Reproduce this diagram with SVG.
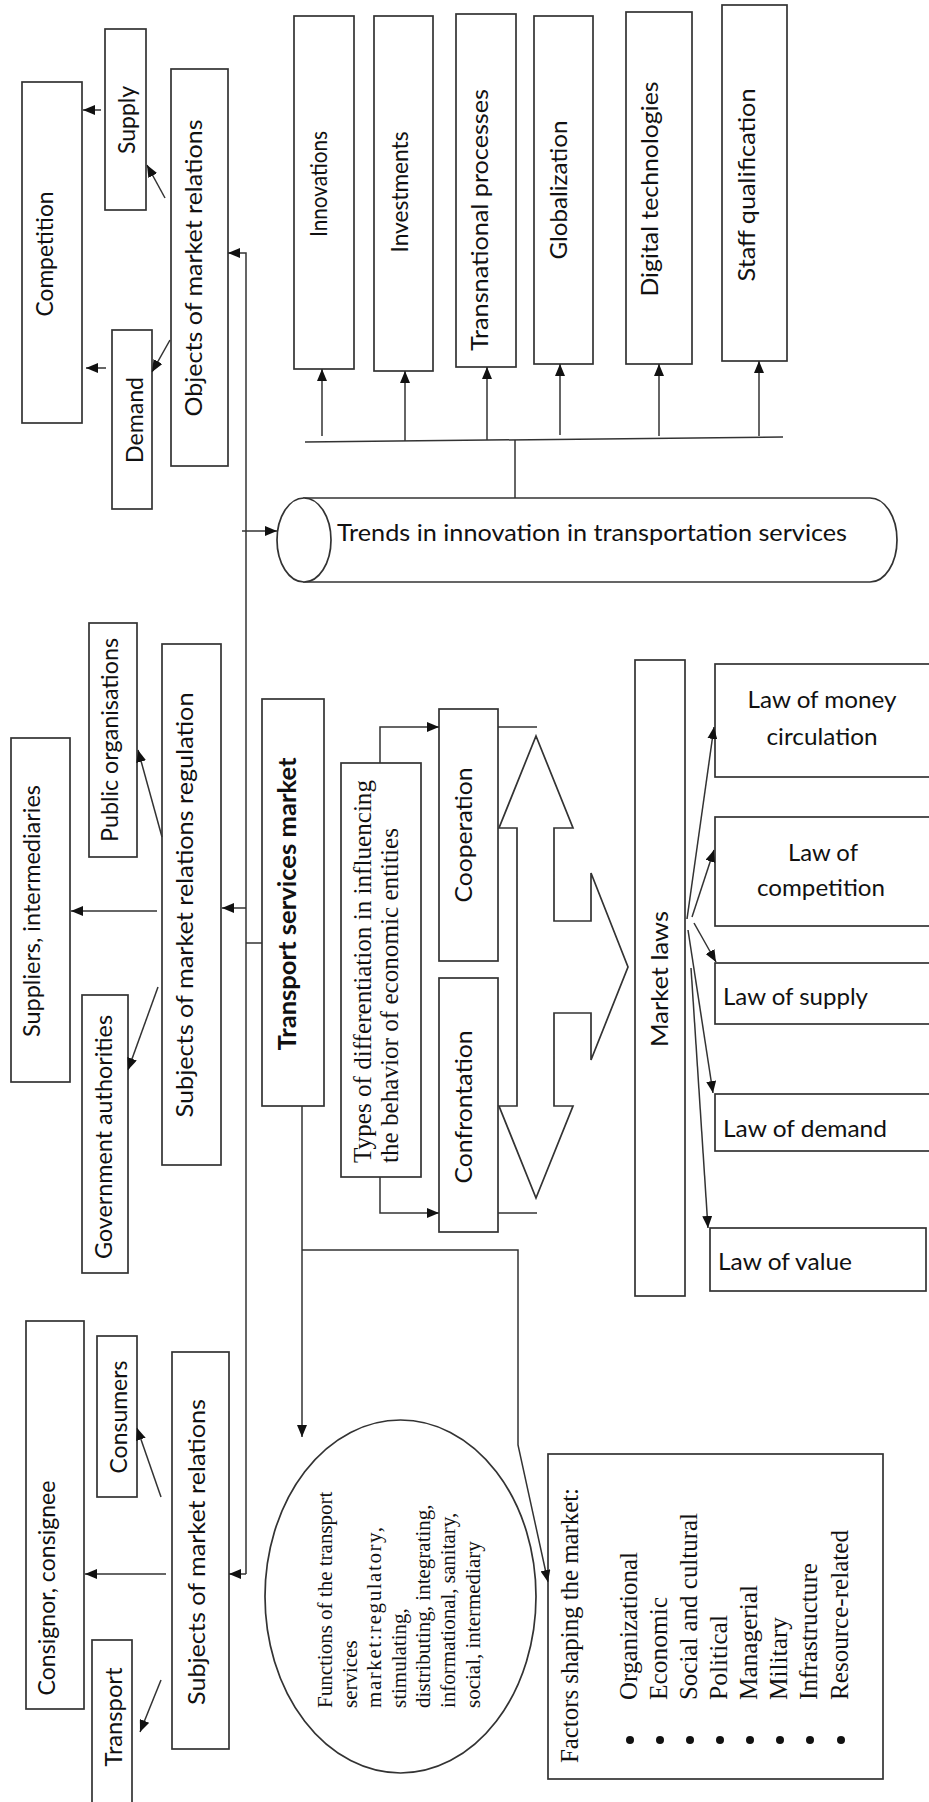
<svg xmlns="http://www.w3.org/2000/svg" width="929" height="1802" viewBox="0 0 929 1802">
<defs>
<marker id="ah" viewBox="0 0 12 10" refX="12" refY="5" markerWidth="12" markerHeight="10" markerUnits="userSpaceOnUse" orient="auto"><path d="M0,0 L12,5 L0,10 z" fill="#111"/></marker>
</defs>
<style>
.box{fill:#fff;stroke:#333;stroke-width:1.7}
.ln{fill:none;stroke:#333;stroke-width:1.5}
.ar{fill:none;stroke:#333;stroke-width:1.5;marker-end:url(#ah)}
.s{font-family:Lato,"Liberation Sans",sans-serif;font-size:24px;fill:#111}
.h{font-size:23px}
.b{font-weight:bold}
.f{font-family:"Liberation Serif","Times New Roman",serif;font-size:25px;fill:#111}
.fs{font-size:21px}
</style>
<rect width="929" height="1802" fill="#fff"/>

<g id="competition"><rect class="box" x="22" y="82" width="60" height="341"/><text class="s" transform="translate(53,254) rotate(-90)" text-anchor="middle" textLength="125" lengthAdjust="spacingAndGlyphs">Competition</text></g>
<g id="supply"><rect class="box" x="105" y="29" width="41" height="181"/><text class="s" transform="translate(135,120) rotate(-90)" text-anchor="middle" textLength="68" lengthAdjust="spacingAndGlyphs">Supply</text></g>
<g id="demand"><rect class="box" x="112" y="330" width="40" height="179"/><text class="s" transform="translate(143,420) rotate(-90)" text-anchor="middle" textLength="86" lengthAdjust="spacingAndGlyphs">Demand</text></g>
<g id="objects"><rect class="box" x="171" y="69" width="57" height="397"/><text class="s" transform="translate(202,268) rotate(-90)" text-anchor="middle" textLength="297" lengthAdjust="spacingAndGlyphs">Objects of market relations</text></g>

<g id="innovations"><rect class="box" x="294" y="16" width="60" height="353"/><text class="s" transform="translate(327,184) rotate(-90)" text-anchor="middle" textLength="106" lengthAdjust="spacingAndGlyphs">Innovations</text></g>
<g id="investments"><rect class="box" x="374" y="16" width="59" height="355"/><text class="s" transform="translate(408,192) rotate(-90)" text-anchor="middle" textLength="121" lengthAdjust="spacingAndGlyphs">Investments</text></g>
<g id="transnational"><rect class="box" x="456" y="14" width="60" height="353"/><text class="s" transform="translate(488,220) rotate(-90)" text-anchor="middle" textLength="262" lengthAdjust="spacingAndGlyphs">Transnational  processes</text></g>
<g id="globalization"><rect class="box" x="534" y="16" width="59" height="348"/><text class="s" transform="translate(567,190) rotate(-90)" text-anchor="middle" textLength="139" lengthAdjust="spacingAndGlyphs">Globalization</text></g>
<g id="digital"><rect class="box" x="626" y="12" width="66" height="352"/><text class="s" transform="translate(658,189) rotate(-90)" text-anchor="middle" textLength="215" lengthAdjust="spacingAndGlyphs">Digital technologies</text></g>
<g id="staff"><rect class="box" x="722" y="5" width="65" height="356"/><text class="s" transform="translate(755,185) rotate(-90)" text-anchor="middle" textLength="193" lengthAdjust="spacingAndGlyphs">Staff qualification</text></g>

<g id="trends"><path class="box" d="M304,498 L870,498 A27,42 0 0 1 870,582 L304,582 Z"/><ellipse class="box" cx="304" cy="540" rx="27" ry="42"/><text class="s" x="337" y="541" textLength="510" lengthAdjust="spacingAndGlyphs">Trends  in  innovation  in transportation  services</text></g>

<g id="public"><rect class="box" x="89" y="623" width="48" height="234"/><text class="s" transform="translate(118,740) rotate(-90)" text-anchor="middle" textLength="204" lengthAdjust="spacingAndGlyphs">Public organisations</text></g>
<g id="suppliers"><rect class="box" x="11" y="738" width="59" height="344"/><text class="s" transform="translate(40,911) rotate(-90)" text-anchor="middle" textLength="252" lengthAdjust="spacingAndGlyphs">Suppliers, intermediaries</text></g>
<g id="regulation"><rect class="box" x="162" y="644" width="59" height="521"/><text class="s" transform="translate(193,905) rotate(-90)" text-anchor="middle" textLength="425" lengthAdjust="spacingAndGlyphs">Subjects of market relations  regulation</text></g>
<g id="government"><rect class="box" x="82" y="995" width="46" height="278"/><text class="s" transform="translate(112,1137) rotate(-90)" text-anchor="middle" textLength="244" lengthAdjust="spacingAndGlyphs">Government authorities</text></g>
<g id="tsm"><rect class="box" x="262" y="699" width="62" height="407"/><text class="s b" transform="translate(296,904) rotate(-90)" text-anchor="middle" textLength="293" lengthAdjust="spacingAndGlyphs">Transport services  market</text></g>

<g id="types"><rect class="box" x="341" y="763" width="80" height="414"/><text class="f" transform="translate(371,1163) rotate(-90)" textLength="383" lengthAdjust="spacingAndGlyphs">Types of differentiation in influencing</text><text class="f" transform="translate(398,1163) rotate(-90)" textLength="335" lengthAdjust="spacingAndGlyphs">the behavior of economic entities</text></g>
<g id="cooperation"><rect class="box" x="439" y="709" width="59" height="252"/><text class="s" transform="translate(472,835) rotate(-90)" text-anchor="middle" textLength="135" lengthAdjust="spacingAndGlyphs">Cooperation</text></g>
<g id="confrontation"><rect class="box" x="439" y="978" width="59" height="254"/><text class="s" transform="translate(472,1107) rotate(-90)" text-anchor="middle" textLength="153" lengthAdjust="spacingAndGlyphs">Confrontation</text></g>
<g id="doublearrow"><polygon class="box" points="536,736 573,828 554,828 554,921 591,921 591,873 628,967 591,1060 591,1013 554,1013 554,1106 573,1106 536,1198 499,1106 517,1106 517,828 499,828"/></g>

<g id="marketlaws"><rect class="box" x="635" y="660" width="50" height="636"/><text class="s" transform="translate(668,979) rotate(-90)" text-anchor="middle" textLength="136" lengthAdjust="spacingAndGlyphs">Market  laws</text></g>
<g id="lawmoney"><rect class="box" x="715" y="664" width="230" height="113"/><text class="s h" x="822" y="708" text-anchor="middle" textLength="149" lengthAdjust="spacingAndGlyphs">Law of money</text><text class="s h" x="822" y="745" text-anchor="middle" textLength="111" lengthAdjust="spacingAndGlyphs">circulation</text></g>
<g id="lawcompetition"><rect class="box" x="715" y="817" width="230" height="109"/><text class="s h" x="823" y="861" text-anchor="middle" textLength="70" lengthAdjust="spacingAndGlyphs">Law of</text><text class="s h" x="821" y="896" text-anchor="middle" textLength="128" lengthAdjust="spacingAndGlyphs">competition</text></g>
<g id="lawsupply"><rect class="box" x="715" y="963" width="230" height="61"/><text class="s h" x="723" y="1005" textLength="145" lengthAdjust="spacingAndGlyphs">Law of supply</text></g>
<g id="lawdemand"><rect class="box" x="715" y="1094" width="230" height="57"/><text class="s h" x="723" y="1137" textLength="164" lengthAdjust="spacingAndGlyphs">Law of demand</text></g>
<g id="lawvalue"><rect class="box" x="710" y="1228" width="216" height="63"/><text class="s h" x="718" y="1270" textLength="134" lengthAdjust="spacingAndGlyphs">Law of value</text></g>

<g id="consignor"><rect class="box" x="26" y="1321" width="58" height="388"/><text class="s" transform="translate(55,1588) rotate(-90)" text-anchor="middle" textLength="215" lengthAdjust="spacingAndGlyphs">Consignor, consignee</text></g>
<g id="consumers"><rect class="box" x="97" y="1336" width="40" height="161"/><text class="s" transform="translate(127,1417) rotate(-90)" text-anchor="middle" textLength="113" lengthAdjust="spacingAndGlyphs">Consumers</text></g>
<g id="subjects"><rect class="box" x="172" y="1352" width="57" height="397"/><text class="s" transform="translate(205,1552) rotate(-90)" text-anchor="middle" textLength="306" lengthAdjust="spacingAndGlyphs">Subjects of market relations</text></g>
<g id="transport"><rect class="box" x="92" y="1640" width="40" height="170"/><text class="s" transform="translate(122,1717) rotate(-90)" text-anchor="middle" textLength="99" lengthAdjust="spacingAndGlyphs">Transport</text></g>

<g id="functions"><ellipse class="box" cx="400.5" cy="1596.5" rx="135.5" ry="176.5"/>
<text class="f fs" transform="translate(332,1708) rotate(-90)">Functions of the transport</text>
<text class="f fs" transform="translate(357,1708) rotate(-90)">services</text>
<text class="f fs" transform="translate(381,1708) rotate(-90)" textLength="181" lengthAdjust="spacing">market:regulatory,</text>
<text class="f fs" transform="translate(406,1708) rotate(-90)">stimulating,</text>
<text class="f fs" transform="translate(430,1708) rotate(-90)">distributing, integrating,</text>
<text class="f fs" transform="translate(455,1708) rotate(-90)">informational, sanitary,</text>
<text class="f fs" transform="translate(480,1708) rotate(-90)">social, intermediary</text>
</g>

<g id="factors"><rect class="box" x="548" y="1454" width="335" height="325"/>
<text class="f" transform="translate(578,1763) rotate(-90)" textLength="275" lengthAdjust="spacingAndGlyphs">Factors shaping the market:</text>
<g fill="#111"><circle cx="630" cy="1740" r="4"/><circle cx="660" cy="1740" r="4"/><circle cx="690" cy="1740" r="4"/><circle cx="720" cy="1740" r="4"/><circle cx="750" cy="1740" r="4"/><circle cx="780" cy="1740" r="4"/><circle cx="810" cy="1740" r="4"/><circle cx="841" cy="1740" r="4"/></g>
<text class="f" transform="translate(637,1700) rotate(-90)" textLength="148" lengthAdjust="spacingAndGlyphs">Organizational</text>
<text class="f" transform="translate(667,1700) rotate(-90)" textLength="103" lengthAdjust="spacingAndGlyphs">Economic</text>
<text class="f" transform="translate(697,1700) rotate(-90)" textLength="187" lengthAdjust="spacingAndGlyphs">Social and cultural</text>
<text class="f" transform="translate(727,1700) rotate(-90)" textLength="85" lengthAdjust="spacingAndGlyphs">Political</text>
<text class="f" transform="translate(757,1700) rotate(-90)" textLength="115" lengthAdjust="spacingAndGlyphs">Managerial</text>
<text class="f" transform="translate(787,1700) rotate(-90)" textLength="83" lengthAdjust="spacingAndGlyphs">Military</text>
<text class="f" transform="translate(817,1700) rotate(-90)" textLength="137" lengthAdjust="spacingAndGlyphs">Infrastructure</text>
<text class="f" transform="translate(848,1700) rotate(-90)" textLength="170" lengthAdjust="spacingAndGlyphs">Resource-related</text>
</g>

<g id="connectors">
<line class="ar" x1="101" y1="110" x2="83" y2="110"/>
<line class="ar" x1="106" y1="368" x2="86" y2="368"/>
<line class="ar" x1="165" y1="198" x2="147" y2="165"/>
<line class="ar" x1="170" y1="340" x2="152" y2="372"/>
<polyline class="ar" points="246,1574 246,253 228,253"/>
<line class="ar" x1="242" y1="531" x2="277" y2="531"/>
<line class="ar" x1="246" y1="908" x2="222" y2="908"/>
<line class="ln" x1="246" y1="943" x2="262" y2="943"/>
<line class="ar" x1="246" y1="1574" x2="229" y2="1574"/>
<line class="ln" x1="305" y1="442" x2="783" y2="437"/>
<line class="ln" x1="515" y1="440" x2="515" y2="498"/>
<line class="ar" x1="322" y1="436" x2="322" y2="369"/>
<line class="ar" x1="405" y1="441" x2="405" y2="371"/>
<line class="ar" x1="487" y1="440" x2="487" y2="367"/>
<line class="ar" x1="560" y1="435" x2="560" y2="364"/>
<line class="ar" x1="659" y1="436" x2="659" y2="364"/>
<line class="ar" x1="759" y1="436" x2="759" y2="361"/>
<line class="ar" x1="162" y1="837" x2="138" y2="750"/>
<line class="ar" x1="157" y1="911" x2="71" y2="911"/>
<line class="ar" x1="158" y1="987" x2="128" y2="1070"/>
<line class="ar" x1="161" y1="1497" x2="137" y2="1428"/>
<line class="ar" x1="166" y1="1574" x2="85" y2="1574"/>
<line class="ar" x1="161" y1="1680" x2="140" y2="1732"/>
<line class="ar" x1="302" y1="1106" x2="302" y2="1437"/>
<polyline class="ar" points="302,1250 518,1250 518,1445 548,1582"/>
<polyline class="ar" points="380,763 380,727 439,727"/>
<polyline class="ar" points="380,1177 380,1213 439,1213"/>
<line class="ln" x1="498" y1="727" x2="537" y2="727"/>
<line class="ln" x1="498" y1="1213" x2="537" y2="1213"/>
<line class="ar" x1="687" y1="919" x2="714" y2="727"/>
<line class="ar" x1="692" y1="917" x2="714" y2="850"/>
<line class="ar" x1="694" y1="923" x2="716" y2="962"/>
<line class="ar" x1="688" y1="930" x2="713" y2="1093"/>
<line class="ar" x1="691" y1="968" x2="708" y2="1228"/>
</g>
</svg>
